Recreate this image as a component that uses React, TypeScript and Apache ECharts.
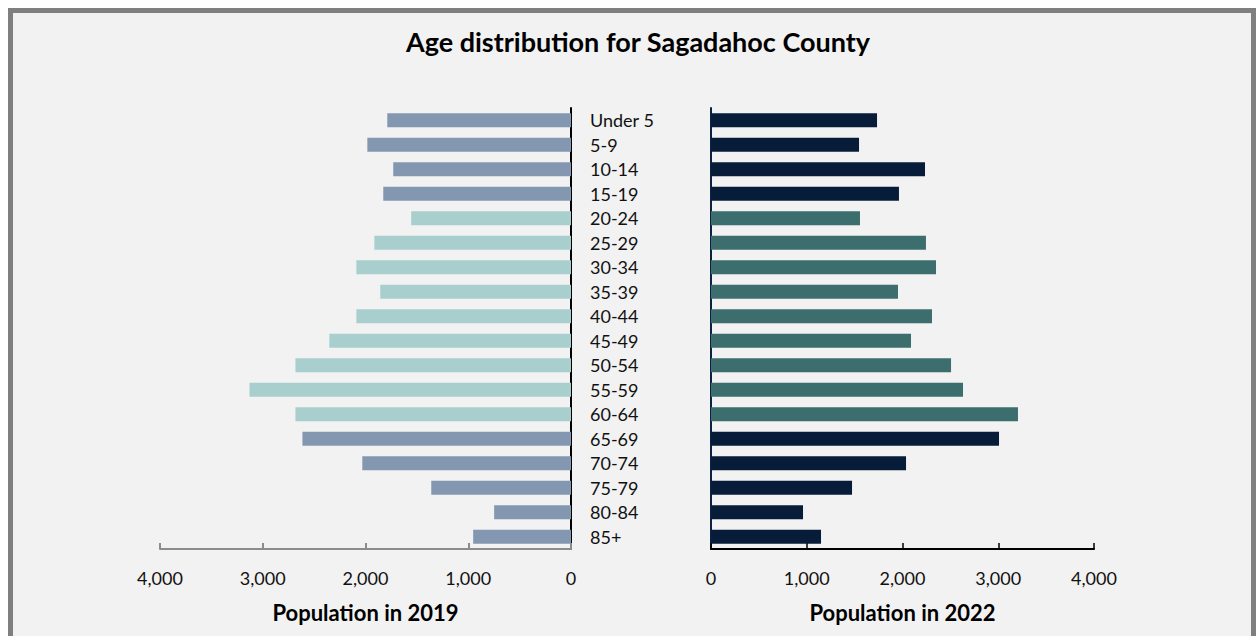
import React, { useEffect, useRef } from "react";
import * as echarts from "echarts";

const categories = [
  "Under 5", "5-9", "10-14", "15-19", "20-24", "25-29", "30-34", "35-39", "40-44",
  "45-49", "50-54", "55-59", "60-64", "65-69", "70-74", "75-79", "80-84", "85+",
];
const pop2019 = [1788, 1982, 1730, 1827, 1555, 1914, 2089, 1856, 2089, 2352, 2682, 3129, 2682, 2614, 2031, 1360, 748, 952];
const pop2022 = [1734, 1546, 2235, 1963, 1556, 2245, 2350, 1953, 2308, 2089, 2507, 2632, 3206, 3008, 2037, 1473, 961, 1149];
const workingAgeGroups = ["20-24", "25-29", "30-34", "35-39", "40-44", "45-49", "50-54", "55-59", "60-64"];
const xTicks = [0, 1000, 2000, 3000, 4000];

const FONT = "Lato";

export default function App() {
  const ref = useRef<HTMLDivElement>(null);
  useEffect(() => {
    if (!ref.current) return;
    const chart = echarts.init(ref.current, undefined, { renderer: "svg" });
    const fmt = (v: number) => v.toLocaleString("en-US");
    const isWorking = (i: number) => workingAgeGroups.includes(categories[i]);
    const labelStyle = { color: "#111", fontSize: 18, fontFamily: FONT };
    const nameStyle = { fontFamily: FONT, fontWeight: "bold", fontSize: 22, color: "#000" };
    chart.setOption({
      animation: false,
      backgroundColor: "transparent",
      title: {
        text: "Age distribution for Sagadahoc County",
        left: 633,
        textAlign: "center",
        top: 23,
        textStyle: { fontFamily: FONT, fontWeight: "bold", fontSize: 27, color: "#000" },
      },
      grid: [
        { left: 160, right: 685, top: 108, bottom: 87 },
        { left: 711, right: 162, top: 108, bottom: 87 },
      ],
      xAxis: [
        {
          gridIndex: 0,
          type: "value",
          inverse: true,
          min: 0,
          max: xTicks[xTicks.length - 1],
          interval: 1000,
          splitLine: { show: false },
          axisLine: { show: true, lineStyle: { color: "#8c8c8c", width: 2 } },
          axisTick: { show: true, inside: true, length: 6, lineStyle: { color: "#8c8c8c", width: 2 } },
          axisLabel: { ...labelStyle, margin: 20, formatter: fmt },
          name: "Population in 2019",
          nameLocation: "middle",
          nameGap: 52,
          nameTextStyle: nameStyle,
        },
        {
          gridIndex: 1,
          type: "value",
          min: 0,
          max: xTicks[xTicks.length - 1],
          interval: 1000,
          splitLine: { show: false },
          axisLine: { show: true, lineStyle: { color: "#000", width: 2 } },
          axisTick: { show: true, inside: true, length: 6, lineStyle: { color: "#000", width: 1.5 } },
          axisLabel: { ...labelStyle, margin: 20, formatter: fmt },
          name: "Population in 2022",
          nameLocation: "middle",
          nameGap: 52,
          nameTextStyle: nameStyle,
        },
      ],
      yAxis: [
        {
          gridIndex: 0,
          type: "category",
          data: categories,
          inverse: true,
          position: "right",
          axisLine: { show: true, lineStyle: { color: "#000", width: 2 } },
          axisTick: { show: false },
          axisLabel: { ...labelStyle, margin: 19, align: "left" },
        },
        {
          gridIndex: 1,
          type: "category",
          data: categories,
          inverse: true,
          position: "left",
          axisLine: { show: true, lineStyle: { color: "#0b2240", width: 2 } },
          axisTick: { show: false },
          axisLabel: { show: false },
        },
      ],
      series: [
        {
          type: "bar",
          xAxisIndex: 0,
          yAxisIndex: 0,
          barWidth: 14,
          data: pop2019,
          itemStyle: {
            color: (p: any) => (isWorking(p.dataIndex) ? "#a8cece" : "#8497b0"),
          },
        },
        {
          type: "bar",
          xAxisIndex: 1,
          yAxisIndex: 1,
          barWidth: 14,
          data: pop2022,
          itemStyle: {
            color: (p: any) => (isWorking(p.dataIndex) ? "#3d6e6e" : "#071c38"),
          },
        },
      ],
    });
    return () => chart.dispose();
  }, []);

  return (
    <>
      <div
        style={{
          position: "fixed",
          left: 8,
          top: 8,
          width: 1248,
          height: 628,
          overflow: "hidden",
        }}
      >
        <div
          style={{
            boxSizing: "border-box",
            width: 1248,
            height: 700,
            border: "5px solid #7f7f7f",
            background: "#f2f2f2",
          }}
        />
      </div>
      <div
        ref={ref}
        style={{ position: "fixed", left: 0, top: 0, width: 1256, height: 636 }}
      />
    </>
  );
}
